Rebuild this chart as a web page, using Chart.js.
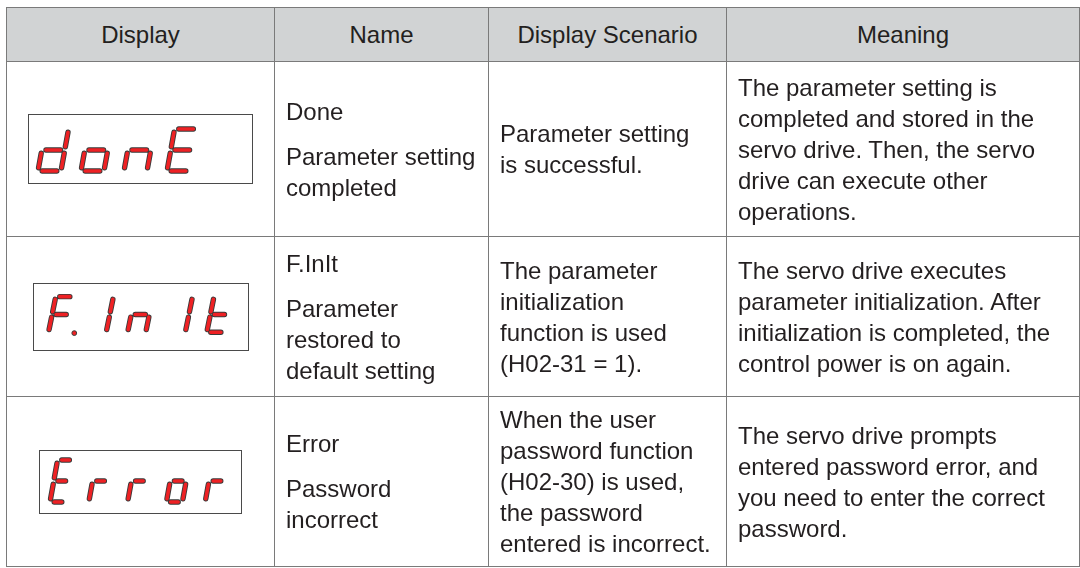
<!DOCTYPE html>
<html lang="en">
<head>
<meta charset="UTF-8">
<title>Display codes</title>
<script src="https://cdn.jsdelivr.net/npm/chart.js"></script>
<style>
  body{margin:0;background:#fff;}
  table{position:absolute;left:6px;top:7px;width:1073px;border-collapse:collapse;table-layout:fixed;
    font-family:"Liberation Sans",Arial,sans-serif;font-size:24px;color:#231f20;}
  th,td{border:1.5px solid #7a7a7a;}
  th{height:53px;background:#d1d3d4;font-weight:normal;text-align:center;padding:0;}
  td{vertical-align:middle;line-height:31px;padding:0 8px 0 11px;white-space:nowrap;}
  td.disp{padding:0;text-align:center;}
  .box{display:inline-block;border:1px solid #4a4a4a;background:#fff;line-height:0;vertical-align:middle;}
  .gap{margin-top:14px;}
</style>
</head>
<body>
<table>
  <colgroup><col style="width:268px"><col style="width:214px"><col style="width:238px"><col style="width:353px"></colgroup>
  <thead><tr><th>Display</th><th>Name</th><th>Display Scenario</th><th>Meaning</th></tr></thead>
  <tbody id="rows"></tbody>
</table>
<script>
// table content
const displayTexts = ['donE ', 'F.InIt', 'Error'];
const names = ['Done', 'F.InIt', 'Error'];
const nameNotes = [['Parameter setting', 'completed'], ['Parameter', 'restored to', 'default setting'], ['Password', 'incorrect']];
const scenarios = [
  ['Parameter setting', 'is successful.'],
  ['The parameter', 'initialization', 'function is used', '(H02-31 = 1).'],
  ['When the user', 'password function', '(H02-30) is used,', 'the password', 'entered is incorrect.']
];
const meanings = [
  ['The parameter setting is', 'completed and stored in the', 'servo drive. Then, the servo', 'drive can execute other', 'operations.'],
  ['The servo drive executes', 'parameter initialization. After', 'initialization is completed, the', 'control power is on again.'],
  ['The servo drive prompts', 'entered password error, and', 'you need to enter the correct', 'password.']
];

// seven-segment glyphs
const glyphs = {d:'bcdeg', o:'cdeg', n:'ceg', E:'adefg', F:'aefg', I:'bc', t:'defg', r:'eg', ' ':''};

// layout of each display box
const rowH = [175, 160, 170];
const boxes = [
  {w:223, h:68, pitch:43, dw:23, left:9, bottom:12},
  {w:214, h:66, pitch:41.5, dw:19, left:10, bottom:15},
  {w:201, h:62, pitch:38.8, dw:16, left:10, bottom:11}
];
const DH = 42, SL = 0.18, HG = 4.2, VG = 3.2;

const tbody = document.getElementById('rows');
displayTexts.forEach((txt, i) => {
  const tr = document.createElement('tr');
  tr.style.height = rowH[i] + 'px';
  const b = boxes[i];
  tr.innerHTML =
    '<td class="disp"><span class="box"><canvas id="seg' + i + '" width="' + b.w + '" height="' + b.h + '"></canvas></span></td>' +
    '<td><div>' + names[i] + '</div><div class="gap">' + nameNotes[i].join('<br>') + '</div></td>' +
    '<td>' + scenarios[i].join('<br>') + '</td>' +
    '<td>' + meanings[i].join('<br>') + '</td>';
  tbody.appendChild(tr);
});

function segPoints(seg, x0, y0, w) {
  const m = DH / 2;
  const ends = {
    a: [[HG, DH], [w - HG, DH]],
    b: [[w, m + VG], [w, DH - VG]],
    c: [[w, VG], [w, m - VG]],
    d: [[HG, 0], [w - HG, 0]],
    e: [[0, VG], [0, m - VG]],
    f: [[0, m + VG], [0, DH - VG]],
    g: [[HG, m], [w - HG, m]]
  }[seg];
  return ends.map(([x, y]) => ({x: x0 + x + y * SL, y: y0 + y}));
}

displayTexts.forEach((txt, i) => {
  const b = boxes[i];
  const pts = [], dots = [];
  let cell = -1;
  for (const ch of txt) {
    if (ch === '.') {
      dots.push({x: b.left + cell * b.pitch + b.dw + 8, y: b.bottom - 1});
      continue;
    }
    cell++;
    const x0 = b.left + cell * b.pitch;
    for (const s of glyphs[ch]) {
      pts.push(...segPoints(s, x0, b.bottom, b.dw), {x: x0, y: null});
    }
  }
  new Chart(document.getElementById('seg' + i), {
    type: 'scatter',
    data: {datasets: [
      {data: dots, pointRadius: 2.4, backgroundColor: '#ee2124', borderColor: '#3a3a3a', borderWidth: 1},
      {data: pts, showLine: true, spanGaps: false, pointRadius: 0, borderColor: '#ee2124', borderWidth: 3.6,
        borderCapStyle: 'round', borderJoinStyle: 'round'},
      {data: pts, showLine: true, spanGaps: false, pointRadius: 0, borderColor: '#3a3a3a', borderWidth: 5.4,
        borderCapStyle: 'round', borderJoinStyle: 'round'}
    ]},
    options: {
      responsive: false, animation: false, events: [],
      layout: {padding: 0},
      plugins: {legend: {display: false}, tooltip: {enabled: false}},
      scales: {
        x: {type: 'linear', min: 0, max: b.w, display: false},
        y: {type: 'linear', min: 0, max: b.h, display: false}
      }
    }
  });
});
</script>
</body>
</html>
